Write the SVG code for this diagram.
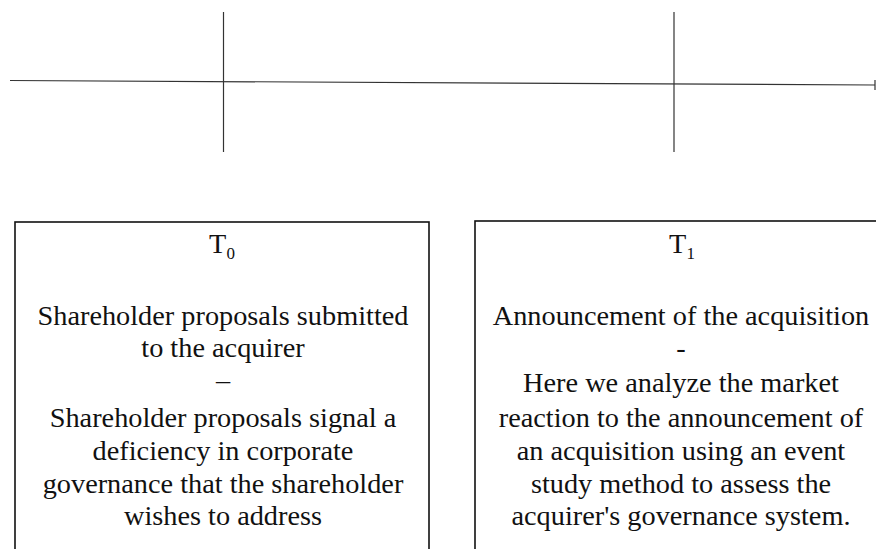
<svg xmlns="http://www.w3.org/2000/svg" width="876" height="549" viewBox="0 0 876 549">
<style>
.ln{stroke:#333;stroke-width:1.2;fill:none}
.box{fill:#fff;stroke:#111;stroke-width:1.6}
.t{font-family:"Liberation Serif","Times New Roman",serif;font-size:28.3px;fill:#111;text-anchor:middle}
.sub{font-size:17px}
</style>
<rect width="876" height="549" fill="#fff"/>
<g id="connectors">
<line class="ln" x1="10" y1="80.5" x2="875" y2="85"/>
<line class="ln" x1="875" y1="80" x2="875" y2="90"/>
<line class="ln" x1="223.5" y1="12" x2="223.5" y2="152"/>
<line class="ln" x1="674" y1="12" x2="674" y2="152"/>
</g>
<g id="node-t0">
<rect class="box" x="15" y="222" width="414" height="340"/>
<text class="t" x="222" y="253">T<tspan class="sub" dy="6">0</tspan></text>
<text class="t" x="223" y="325">Shareholder proposals submitted</text>
<text class="t" x="223" y="357">to the acquirer</text>
<text class="t" x="223" y="389">–</text>
<text class="t" x="223" y="427">Shareholder proposals signal  a</text>
<text class="t" x="223" y="460">deficiency  in corporate</text>
<text class="t" x="223" y="493">governance that the shareholder</text>
<text class="t" x="223" y="525">wishes to address</text>
</g>
<g id="node-t1">
<rect class="box" x="475" y="221" width="420" height="340"/>
<text class="t" x="682" y="253">T<tspan class="sub" dy="6">1</tspan></text>
<text class="t" x="681" y="325">Announcement of the acquisition</text>
<text class="t" x="681" y="357">-</text>
<text class="t" x="681" y="392">Here we analyze the market</text>
<text class="t" x="681" y="427">reaction to the announcement of</text>
<text class="t" x="681" y="460">an acquisition using an event</text>
<text class="t" x="681" y="493">study method to assess the</text>
<text class="t" x="681" y="525">acquirer's  governance system.</text>
</g>
</svg>
